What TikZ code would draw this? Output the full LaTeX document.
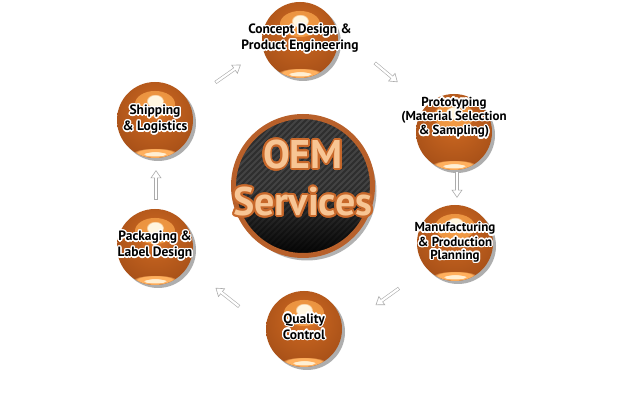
\documentclass[tikz,border=0pt]{standalone}
\usepackage{fontspec}
\usepackage{contour}
\usetikzlibrary{arrows.meta,shadows,fadings,calc}
\newfontfamily\orbfont{PT Sans}
\contourlength{1.3pt}
\newcommand{\halo}[1]{\contour{white}{#1}}
\newcommand{\bigglow}[1]{\contour{peachedge}{#1}}
\definecolor{orbhi}{HTML}{FFF6E0}
\definecolor{orblight}{HTML}{F7A24A}
\definecolor{orbcore}{HTML}{E8822E}
\definecolor{orbmid}{HTML}{C0601E}
\definecolor{orbdark}{HTML}{6E2C0A}
\definecolor{orbedge}{HTML}{42180A}
\definecolor{orbglow}{HTML}{FFB05E}
\definecolor{ring}{HTML}{B8602A}
\definecolor{carbon}{HTML}{2E2E2E}
\definecolor{stripe}{HTML}{434343}
\definecolor{peach}{HTML}{F7C594}
\definecolor{peachedge}{HTML}{C8682A}
\definecolor{arrowgray}{HTML}{ABABAB}
\pgfdeclareradialshading{orbshade}{\pgfpoint{0bp}{8bp}}{%
  color(0bp)=(orbcore); color(12bp)=(orbmid); color(30bp)=(orbmid!70!orbdark);
  color(44bp)=(orbdark); color(54bp)=(orbedge); color(70bp)=(orbedge)}
\begin{document}
\begin{tikzpicture}[x=1pt,y=-1pt,
    orb/.style={circle,minimum size=76pt,inner sep=0pt,shading=orbshade,
      drop shadow={shadow xshift=3pt,shadow yshift=-3pt,opacity=.45,fill=black!70},
      path picture={
        \fill[orblight,opacity=.8,path fading=circle with fuzzy edge 20 percent]
          ($(path picture bounding box.center)+(0,-16)$) ellipse (20 and 13);
        \fill[orbhi,path fading=circle with fuzzy edge 20 percent]
          ($(path picture bounding box.center)+(0,-19)$) ellipse (9 and 7);
        \fill[orbglow,path fading=circle with fuzzy edge 20 percent]
          ([yshift=5pt]path picture bounding box.south) ellipse (22 and 5);
        \fill[orbhi,opacity=.9,path fading=circle with fuzzy edge 20 percent]
          ([yshift=4pt]path picture bounding box.south) ellipse (12 and 2.5);
      }},
    orbtext/.style={font=\orbfont\bfseries\fontsize{13.5}{16}\selectfont,align=center},
    orbtight/.style={orbtext,font=\orbfont\bfseries\fontsize{13}{13}\selectfont},
    oembase/.style={circle,minimum size=139pt,draw=ring,line width=5pt,fill=carbon,
      drop shadow={shadow xshift=4pt,shadow yshift=-5pt,opacity=.5,fill=black!60},
      path picture={
        \foreach \k in {-150,-144,...,150}
          \draw[stripe,line width=2pt] ($(path picture bounding box.center)+(\k-80,80)$) -- ++(160,-160);
        \fill[black,path fading=north] ($(path picture bounding box.center)+(-75,0)$)
          rectangle ($(path picture bounding box.center)+(75,75)$);
      }},
    flow/.style 2 args={draw=arrowgray,line width=3.4pt,shorten <=#1,shorten >=#2,
      -{Triangle[open,fill=white,length=8pt,width=11pt,line width=.6pt]},
      postaction={draw=white,line width=2.2pt,-,shorten <=#1+.6pt,shorten >=#2+6pt}}]
  \fill[white] (0,0) rectangle (622,403);
  \useasboundingbox (0,0) rectangle (622,403);

  \node[oembase] (oem) at (303,186) {};
  \node[font=\orbfont\bfseries\fontsize{40}{47}\selectfont\contourlength{1.8pt},text=peach,align=center]
    (oem-t) at ([yshift=7pt]oem) {\bigglow{OEM}\\\bigglow{Services}};

  \foreach \n/\x/\y in {concept/300/40,proto/454/132,manu/455/243,quality/304/329,packaging/155/247,shipping/155/120}
    \node[orb] (\n) at (\x,\y) {};

  \node[orbtext] (concept-t) at ([yshift=1pt]concept) {\halo{Concept Design \&}\\\halo{Product Engineering}};
  \node[orbtight] (proto-t) at ([yshift=14pt]proto) {\halo{Prototyping}\\\halo{(Material Selection}\\\halo{\& Sampling)}};
  \node[orbtight] (manu-t) at (manu) {\halo{Manufacturing}\\\halo{\& Production}\\\halo{Planning}};
  \node[orbtext] (quality-t) at ([yshift=2pt]quality) {\halo{Quality}\\\halo{Control}};
  \node[orbtext] (packaging-t) at ([yshift=1pt]packaging) {\halo{Packaging \&}\\\halo{Label Design}};
  \node[orbtext] (shipping-t) at (shipping) {\halo{Shipping}\\\halo{\& Logistics}};

  \draw[flow={33pt}{27pt}] (shipping.29) -- (concept.194);
  \draw[flow={49pt}{37pt}] (concept.13) -- (proto.137);
  \draw[flow={1pt}{7pt}] ([xshift=3pt]proto.south) -- ([xshift=3pt]proto.south |- manu.north);
  \draw[flow={34pt}{41pt}] (manu.222) -- (quality.0);
  \draw[flow={34pt}{35pt}] (quality.178) -- (packaging.-30);
  \draw[flow={9pt}{12pt}] ([xshift=1pt]packaging.north) -- ([xshift=1pt]packaging.north |- shipping.south);
\end{tikzpicture}
\end{document}
